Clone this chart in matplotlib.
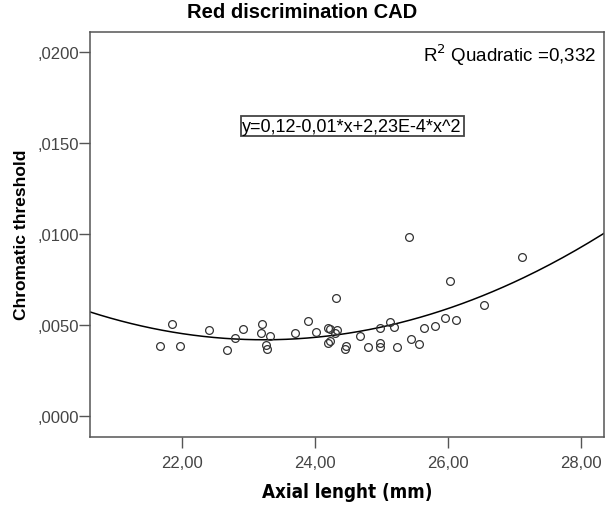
import numpy as np
import matplotlib
matplotlib.use("Agg")
import matplotlib.pyplot as plt

# axial length (mm) and chromatic threshold
axial_length = [21.66, 21.84, 21.97, 22.40, 22.67, 22.80, 22.91, 23.20, 23.19, 23.32,
                23.26, 23.27, 23.70, 23.89, 24.02, 24.20, 24.23, 24.33, 24.31, 24.30,
                24.20, 24.22, 24.46, 24.45, 24.68, 24.79, 24.98, 24.98, 24.98, 25.12,
                25.19, 25.24, 25.41, 25.45, 25.56, 25.64, 25.80, 25.96, 26.03, 26.12,
                26.55, 27.12]
threshold = [0.00385, 0.00504, 0.00381, 0.00473, 0.00363, 0.00429, 0.00475, 0.00502, 0.00454, 0.00436,
             0.00387, 0.00365, 0.00454, 0.00519, 0.00462, 0.00482, 0.00475, 0.00473, 0.00647, 0.00453,
             0.00398, 0.00410, 0.00381, 0.00365, 0.00436, 0.00376, 0.00482, 0.00398, 0.00379, 0.00515,
             0.00486, 0.00378, 0.00984, 0.00421, 0.00392, 0.00482, 0.00495, 0.00539, 0.00740, 0.00528,
             0.00608, 0.00874]

# quadratic fit coefficients (constant, linear, quadratic)
fit_coefs = [0.1245, -0.01036, 2.23e-4]

x_ticks = [22, 24, 26, 28]
x_tick_labels = ["22,00", "24,00", "26,00", "28,00"]
y_ticks = [0.0, 0.005, 0.010, 0.015, 0.020]
y_tick_labels = [",0000", ",0050", ",0100", ",0150", ",0200"]

plt.rcParams["font.family"] = ["Liberation Sans", "DejaVu Sans"]

fig = plt.figure(figsize=(6.05, 5.10), dpi=100)
ax = fig.add_axes([90 / 605, 1 - 437.7 / 510, 514 / 605, (437.7 - 32.7) / 510])

xmin, xmax = 20.61, 28.35
ax.set_xlim(xmin, xmax)
ax.set_ylim(-0.00115, 0.0211)

xs = np.linspace(xmin, xmax, 200)
ys = fit_coefs[0] + fit_coefs[1] * xs + fit_coefs[2] * xs ** 2
ax.plot(xs, ys, color="black", lw=1.1, zorder=2)

ax.plot(axial_length, threshold, "o", ms=5.6, mfc="none", mec="#333333", mew=0.9, zorder=3)

ax.set_xticks(x_ticks)
ax.set_xticklabels(x_tick_labels)
ax.set_yticks(y_ticks)
ax.set_yticklabels(y_tick_labels)
ax.tick_params(axis="both", direction="out", length=8, width=1, color="#555555",
               labelcolor="#444444", labelsize=12)
ax.tick_params(axis="y", pad=0)
ax.tick_params(axis="x", pad=5)
for s in ax.spines.values():
    s.set_color("#555555")
    s.set_linewidth(1.1)

fig.text(0.5, 1 - 13 / 510, "Red discrimination CAD", ha="center", va="center",
         fontsize=14.5, fontweight="bold")
ax.set_xlabel("Axial lenght (mm)", family="DejaVu Sans", fontstretch="condensed",
              fontsize=13.5, fontweight="bold", labelpad=9)
ax.set_ylabel("Chromatic threshold", fontsize=12.5, fontweight="bold", labelpad=6)

ax.text(0.985, 0.945, r"R$^2$ Quadratic =0,332", transform=ax.transAxes, ha="right", va="center",
        fontsize=13.5)
ax.text(0.51, 0.767, "y=0,12-0,01*x+2,23E-4*x^2", transform=ax.transAxes, ha="center", va="center",
        fontsize=13, bbox=dict(boxstyle="square,pad=0.1", fc="white", ec="#444444", lw=1.3))

fig.savefig("out.png", dpi=100)
